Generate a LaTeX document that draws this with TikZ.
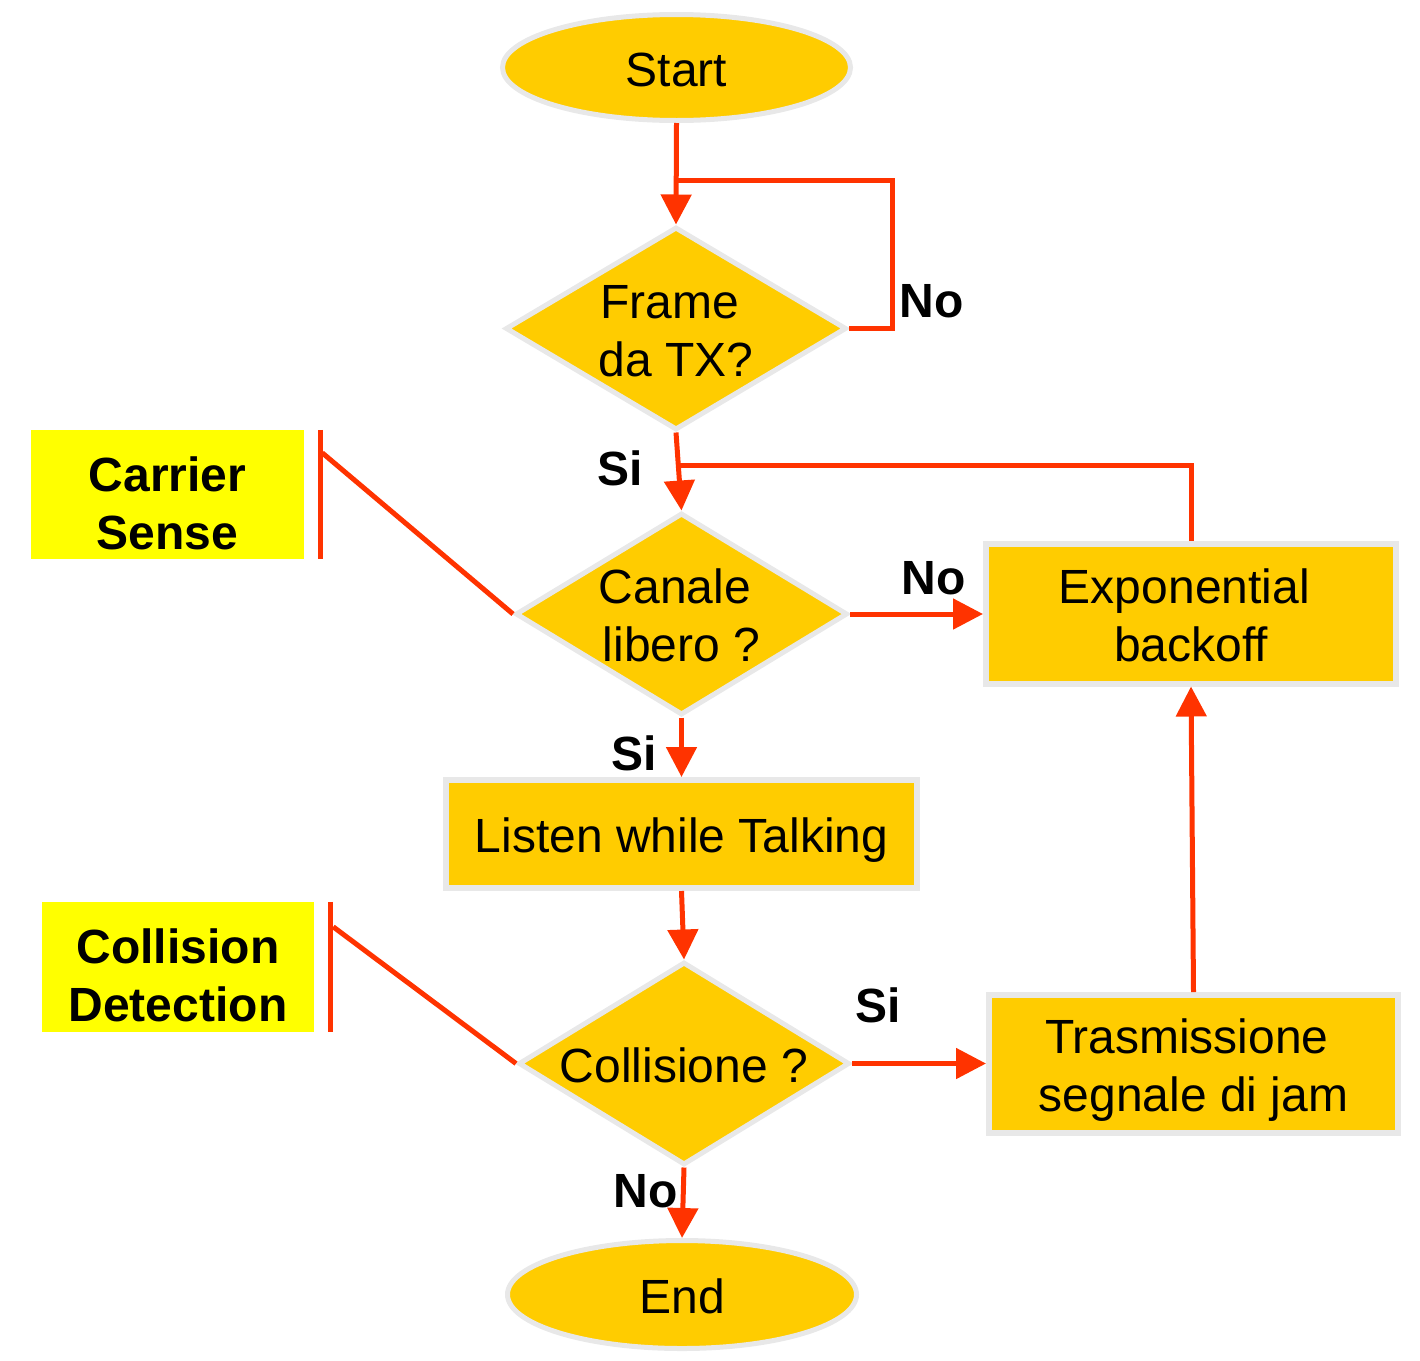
\documentclass[tikz,border=0pt]{standalone}
\usepackage{fontspec}
\setmainfont{Liberation Sans}
\usetikzlibrary{shapes.geometric,arrows.meta,calc}
\definecolor{fillc}{HTML}{FFCC00}
\definecolor{bordc}{HTML}{E8E8E8}
\definecolor{arrc}{HTML}{FF3300}
\definecolor{labc}{HTML}{FFFF00}
\newcommand\fs{\rule[-10.5pt]{0pt}{58pt}}
\newcommand\lbs{\rule[-3.5pt]{0pt}{58pt}}
\newcommand\tsp{\hspace*{13.3pt}}
\begin{document}
\begin{tikzpicture}[x=1pt,y=-1pt,
  every node/.style={font=\fontsize{48pt}{58pt}\selectfont, inner sep=0pt},
  shp/.style={fill=fillc, draw=bordc, line width=5pt},
  term/.style={shp, ellipse},
  dec/.style={shp, diamond},
  proc/.style={shp, rectangle, line width=6pt, align=center},
  lab/.style={fill=labc, align=center, font=\fontsize{48pt}{58pt}\selectfont\bfseries},
  tag/.style={font=\fontsize{48pt}{58pt}\selectfont\bfseries, anchor=base},
  flow/.style={draw=arrc, line width=5pt},
  arr/.style={flow, -{Triangle[length=30pt,width=30pt]}},
]
\useasboundingbox (0,0) rectangle (1420,1360);

% nodes
\node[term, minimum width=348, minimum height=106] (start) at (676.5,67.5) {\fs Start};
\node[dec, minimum width=341, minimum height=203,
  label={[name=frameT, align=center]center:{\fs Frame\tsp\\ \fs da TX?}}] (frame) at (676,328.5) {};
\node[dec, minimum width=332, minimum height=202,
  label={[name=canaleT, align=center]center:{\fs Canale\tsp\\ \fs libero ?}}] (canale) at (681.5,614) {};
\node[proc, minimum width=410, minimum height=140] (exp) at (1191,613.5) {\fs Exponential\tsp\\ \fs backoff};
\node[proc, minimum width=471, minimum height=108] (listen) at (681.5,834) {\fs Listen while Talking};
\node[dec, minimum width=331, minimum height=203,
  label={[name=collT]center:{\fs Collisione ?}}] (coll) at (684,1063.5) {};
\node[proc, minimum width=409, minimum height=138] (tras) at (1193.5,1064) {\fs Trasmissione\tsp\\ \fs segnale di jam};
\node[term, minimum width=349, minimum height=108] (end) at (682,1294.5) {\fs End};

\node[lab, minimum width=273, minimum height=129] (carrier) at (167.5,494.5) {\lbs Carrier\\ \lbs Sense};
\node[lab, minimum width=272, minimum height=130] (colldet) at (178,967) {\lbs Collision\\ \lbs Detection};

% tags
\node[tag] (t1) at (931.5,317) {No};
\node[tag] (t2) at (620,485) {Si};
\node[tag] (t3) at (933.5,594) {No};
\node[tag] (t4) at (634,770) {Si};
\node[tag] (t5) at (878,1022) {Si};
\node[tag] (t6) at (645.5,1207) {No};

% helper coordinates
\coordinate (j1) at (676.3,180);
\coordinate (c1) at (892,180);
\coordinate (j2) at (678.5,465);
\coordinate (cs1) at ($(carrier.north east)+(16,0)$);
\coordinate (cs2) at ($(carrier.south east)+(16,0)$);
\coordinate (cs3) at ($(cs1)+(2,23)$);
\coordinate (cd1) at ($(colldet.north east)+(16,0)$);
\coordinate (cd2) at ($(colldet.south east)+(16,0)$);
\coordinate (cd3) at ($(cd1)+(3,25)$);

% connectors
\draw[arr] (start.south) -- (frame.north);
\draw[flow] (frame.east) -| (c1) -- (j1);
\draw[arr] (frame.south) -- (canale.north);
\draw[flow] (exp.north) |- (j2);
\draw[arr] (canale.east) -- (canale.east -| exp.west);
\draw[arr] (canale.south) -- (listen.north);
\draw[arr] (listen.south) -- (coll.north);
\draw[arr] (coll.east) -- (coll.east -| tras.west);
\draw[arr] (tras.north) -- (exp.south);
\draw[arr] (coll.south) -- (end.north);

\draw[flow] (cs1) -- (cs2);
\draw[flow] (cs3) -- (canale.west);
\draw[flow] (cd1) -- (cd2);
\draw[flow] (cd3) -- (coll.west);
\end{tikzpicture}
\end{document}
